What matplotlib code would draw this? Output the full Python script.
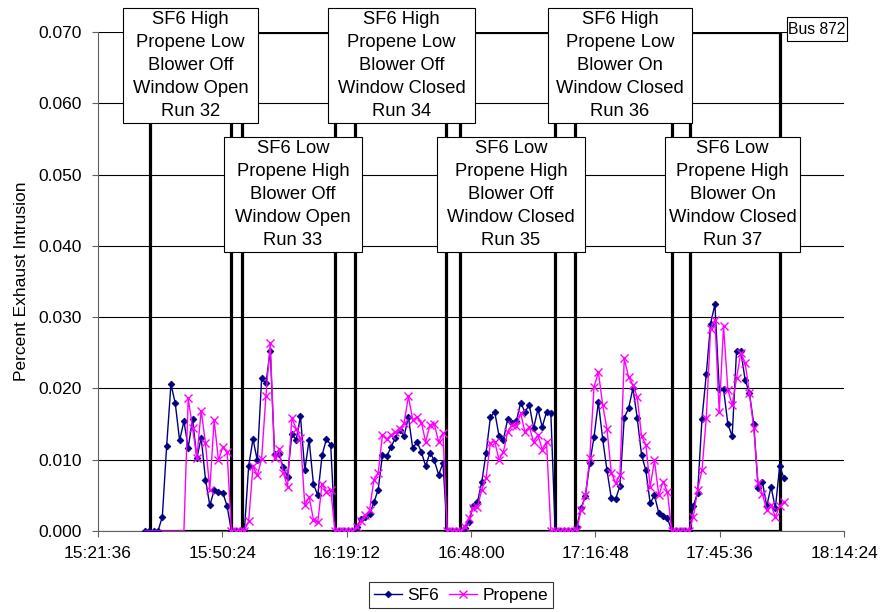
import numpy as np
import matplotlib
matplotlib.use('Agg')
import matplotlib.pyplot as plt
from matplotlib.patches import Rectangle
from matplotlib.ticker import FuncFormatter, FixedLocator

plt.rcParams['font.family'] = ['Liberation Sans', 'DejaVu Sans']

# --- data (minutes after midnight, 1-minute samples) ---
START_MIN = 932.5  # 15:32:30

sf6_pre = [0, 0, 0, 0]
sf6_run32 = [0.0020, 0.0119, 0.0206, 0.0179, 0.0127, 0.0154, 0.0117, 0.0157, 0.0102, 0.0131,
             0.0072, 0.0036, 0.0057, 0.0055, 0.0054, 0.0035]
sf6_gap1 = [0, 0, 0, 0]
sf6_run33 = [0.0091, 0.0129, 0.0099, 0.0214, 0.0207, 0.0253, 0.0108, 0.0108, 0.0090, 0.0076,
             0.0136, 0.0128, 0.0161, 0.0085, 0.0128, 0.0066, 0.0050, 0.0106, 0.0129, 0.0121]
sf6_gap2 = [0, 0, 0, 0, 0]
sf6_run34 = [0.0005, 0.0017, 0.0020, 0.0024, 0.0040, 0.0058, 0.0107, 0.0105, 0.0118, 0.0131,
             0.0142, 0.0133, 0.0160, 0.0116, 0.0125, 0.0111, 0.0091, 0.0110, 0.0099, 0.0079, 0.0095]
sf6_gap3 = [0, 0, 0, 0]
sf6_run35 = [0.0004, 0.0012, 0.0035, 0.0040, 0.0069, 0.0110, 0.0160, 0.0167, 0.0133, 0.0128,
             0.0157, 0.0152, 0.0154, 0.0180, 0.0167, 0.0177, 0.0144, 0.0171, 0.0146, 0.0167, 0.0165]
sf6_gap4 = [0, 0, 0, 0, 0]
sf6_run36 = [0.0006, 0.0032, 0.0049, 0.0095, 0.0132, 0.0181, 0.0129, 0.0085, 0.0046, 0.0045,
             0.0063, 0.0159, 0.0172, 0.0200, 0.0159, 0.0107, 0.0085, 0.0039, 0.0050, 0.0025,
             0.0021, 0.0018]
sf6_gap5 = [0, 0, 0, 0, 0]
sf6_run37 = [0.0035, 0.0054, 0.0157, 0.0220, 0.0291, 0.0318, 0.0199, 0.0199, 0.0150, 0.0133,
             0.0252, 0.0252, 0.0212, 0.0193, 0.0150, 0.0061, 0.0069, 0.0035, 0.0062, 0.0032,
             0.0091, 0.0074]

pro_pre = [0, 0, 0, 0, 0, 0, 0, 0, 0, 0]
pro_run32 = [0.0186, 0.0145, 0.0103, 0.0169, 0.0123, 0.0058, 0.0156, 0.0099, 0.0118, 0.0111]
pro_gap1 = [0, 0, 0, 0]
pro_run33 = [0.0014, 0.0091, 0.0078, 0.0101, 0.0190, 0.0264, 0.0102, 0.0115, 0.0082, 0.0062,
             0.0159, 0.0143, 0.0130, 0.0036, 0.0048, 0.0016, 0.0012, 0.0066, 0.0055, 0.0058]
pro_gap2 = [0, 0, 0, 0, 0]
pro_run34 = [0.0006, 0.0014, 0.0022, 0.0029, 0.0072, 0.0081, 0.0135, 0.0129, 0.0135, 0.0139,
             0.0143, 0.0151, 0.0189, 0.0156, 0.0160, 0.0152, 0.0125, 0.0149, 0.0150, 0.0125, 0.0137]
pro_gap3 = [0, 0, 0, 0]
pro_run35 = [0.0006, 0.0018, 0.0032, 0.0034, 0.0058, 0.0075, 0.0124, 0.0125, 0.0100, 0.0111,
             0.0139, 0.0149, 0.0147, 0.0165, 0.0139, 0.0146, 0.0125, 0.0135, 0.0114, 0.0125]
pro_gap4 = [0, 0, 0, 0, 0, 0]
pro_run36 = [0.0002, 0.0029, 0.0050, 0.0102, 0.0202, 0.0223, 0.0177, 0.0143, 0.0082, 0.0067,
             0.0079, 0.0242, 0.0216, 0.0205, 0.0188, 0.0133, 0.0121, 0.0062, 0.0099, 0.0050,
             0.0069, 0.0055]
pro_gap5 = [0, 0, 0, 0, 0]
pro_run37 = [0.0020, 0.0058, 0.0085, 0.0159, 0.0284, 0.0296, 0.0167, 0.0287, 0.0198, 0.0177,
             0.0214, 0.0250, 0.0236, 0.0193, 0.0144, 0.0068, 0.0052, 0.0029, 0.0036, 0.0020,
             0.0035, 0.0041]

# run start / end times
run_start = ['15:33:36', '15:55:00', '16:21:06', '16:45:30', '17:12:06', '17:38:42']
run_end = ['15:52:24', '16:16:30', '16:42:12', '17:07:30', '17:34:36', '17:59:36']
RUN_LEVEL = 0.07

run_labels = [
    'SF6 High\nPropene Low\nBlower Off\nWindow Open\nRun 32',
    'SF6 Low\nPropene High\nBlower Off\nWindow Open\nRun 33',
    'SF6 High\nPropene Low\nBlower Off\nWindow Closed\nRun 34',
    'SF6 Low\nPropene High\nBlower Off\nWindow Closed\nRun 35',
    'SF6 High\nPropene Low\nBlower On\nWindow Closed\nRun 36',
    'SF6 Low\nPropene High\nBlower On\nWindow Closed\nRun 37',
]


def to_min(s):
    h, m, sec = [int(v) for v in s.split(':')]
    return h * 60 + m + sec / 60.0


def fmt_time(x, pos=None):
    total = int(round(x * 60))
    return '%d:%02d:%02d' % (total // 3600, (total % 3600) // 60, total % 60)


sf6 = np.array(sf6_pre + sf6_run32 + sf6_gap1 + sf6_run33 + sf6_gap2 + sf6_run34 + sf6_gap3
               + sf6_run35 + sf6_gap4 + sf6_run36 + sf6_gap5 + sf6_run37)
propene = np.array(pro_pre + pro_run32 + pro_gap1 + pro_run33 + pro_gap2 + pro_run34 + pro_gap3
                   + pro_run35 + pro_gap4 + pro_run36 + pro_gap5 + pro_run37)
t = START_MIN + np.arange(len(sf6))

# --- figure ---
W, H = 883, 612
fig = plt.figure(figsize=(W / 100, H / 100), dpi=100)
ax = fig.add_axes([98 / W, (H - 531) / H, 746 / W, 499 / H])

# run indicator outline
rx, ry = [], []
for s, e in zip(run_start, run_end):
    s, e = to_min(s), to_min(e)
    rx += [s, s, e, e]
    ry += [0, RUN_LEVEL, RUN_LEVEL, 0]
ax.plot(rx, ry, color='black', lw=2.3, zorder=3, solid_joinstyle='miter')
ax.plot([to_min(run_start[0]), to_min(run_end[-1])], [0, 0], color='black', lw=2.3, zorder=3)

ax.plot(t, sf6, color='#000080', lw=1.0, marker='D', ms=3.4, mew=0.6, label='SF6', zorder=4)
# propene markers start where the first run's signal appears
ax.plot(t, propene, color='#FF00FF', lw=1.0, marker='x', ms=5.5, mew=1.0, label='Propene',
        zorder=5, markevery=list(range(len(pro_pre), len(propene))))

ax.set_xlim(921.6, 1094.4)
ax.set_ylim(0, 0.07)
ax.xaxis.set_major_locator(FixedLocator(921.6 + 28.8 * np.arange(7)))
ax.xaxis.set_major_formatter(FuncFormatter(fmt_time))
ax.set_yticks(np.arange(0, 0.0701, 0.01))
ax.yaxis.set_major_formatter(FuncFormatter(lambda v, p: '%.3f' % v))
ax.grid(axis='y', color='black', lw=0.8)
ax.set_axisbelow(True)
for side in ['top', 'right']:
    ax.spines[side].set_visible(False)
ax.spines['left'].set_color('#606060')
ax.spines['bottom'].set_color('#606060')
ax.tick_params(axis='both', direction='out', length=4.5, width=0.8, color='#606060',
               labelsize=12.5)
ax.tick_params(axis='y', pad=7)
ax.tick_params(axis='x', pad=6)
ax.set_ylabel('Percent Exhaust Intrusion', fontsize=12.5, labelpad=7)

# run boxes (pixel positions on the 883x612 canvas)
box_px = [(123, 8, 258, 123), (224, 137, 362, 252), (328, 8, 475, 123),
          (437, 137, 585, 252), (548, 8, 692, 123), (665, 137, 800, 252)]
for (x0, y0, x1, y1), lab in zip(box_px, run_labels):
    fig.add_artist(Rectangle((x0 / W, 1 - y1 / H), (x1 - x0) / W, (y1 - y0) / H,
                             transform=fig.transFigure, facecolor='white',
                             edgecolor='black', lw=0.8, zorder=10))
    fig.text((x0 + x1) / 2 / W, 1 - (y0 + y1) / 2 / H, lab, ha='center', va='center',
             fontsize=13.2, linespacing=1.47, zorder=11)

fig.add_artist(Rectangle((787 / W, 1 - 41 / H), 60 / W, 24 / H, transform=fig.transFigure,
                         facecolor='white', edgecolor='black', lw=0.8, zorder=10))
fig.text(817 / W, 1 - 29 / H, 'Bus 872', ha='center', va='center', fontsize=11.3, zorder=11)

leg = fig.legend(loc='center', bbox_to_anchor=(461 / W, 1 - 595 / H), ncol=2, fontsize=12.5,
                 frameon=True, fancybox=False, edgecolor='black', handlelength=1.6,
                 columnspacing=0.6, handletextpad=0.3, borderpad=0.3, borderaxespad=0)
leg.get_frame().set_linewidth(0.8)

fig.savefig('out.png', dpi=100)
